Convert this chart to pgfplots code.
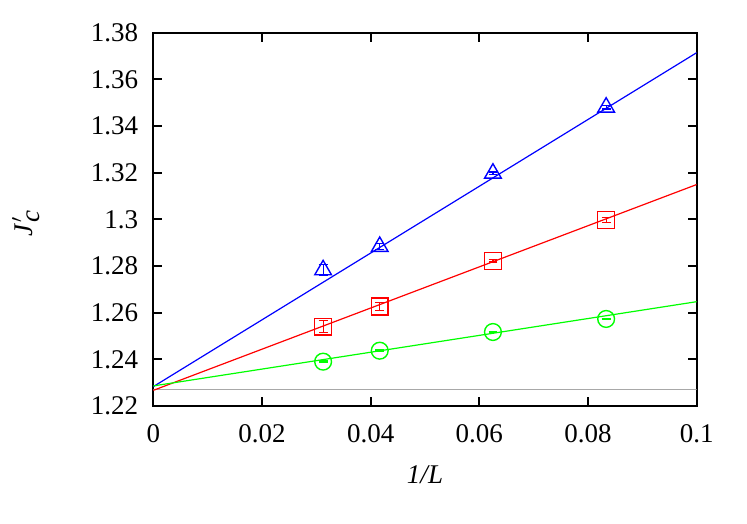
\documentclass[border=0pt]{standalone}
\usepackage{fontspec}
\setmainfont{Liberation Serif}
\usepackage{pgfplots}
\pgfplotsset{compat=1.18}
\definecolor{fitgray}{HTML}{A8A8A8}

\begin{document}
\begin{tikzpicture}
\useasboundingbox (0,0) rectangle (373.5pt,261.5pt);
\begin{axis}[
  at={(76.65pt,58.5pt)}, anchor=south west,
  scale only axis, width=271.7pt, height=186.7pt,
  xmin=0, xmax=0.1, ymin=1.22, ymax=1.38,
  xtick={0,0.02,...,0.1}, ytick={1.22,1.24,...,1.38},
  tick align=inside, major tick length=4.5pt,
  axis line style={line width=1pt}, tick style={black,line width=0.9pt},
  font=\fontsize{13.5}{16}\selectfont,
  /pgf/number format/assume math mode=true,
  /pgf/number format/.cd, fixed, precision=2, /pgfplots/.cd,
  yticklabel style={xshift=-4pt},
  xticklabel style={yshift=-5.5pt},
  xlabel={\textit{1/L}},
  ylabel={\textit{J}$^{\prime}_{\textit{c}}$},
  xlabel style={at={(axis description cs:0.5,-0.185)}, anchor=center},
  ylabel style={at={(axis description cs:-0.234,0.49)}, anchor=center},
  error bars/y dir=both, error bars/y explicit,
]
\addplot[fitgray, line width=0.6pt] coordinates {(0,1.2269) (0.1,1.2269)};
% fits
\addplot[blue, line width=0.6pt] coordinates {(0,1.2283) (0.1,1.3714)};
\addplot[red, line width=0.6pt] coordinates {(0,1.2267) (0.1,1.3149)};
\addplot[green, line width=0.6pt] coordinates {(0,1.2286) (0.1,1.2647)};
% data
\addplot[blue, only marks, mark=triangle, mark size=4.8pt, mark options={line width=0.7pt},
  error bars/error bar style={line width=0.6pt},
  error bars/error mark options={rotate=90, mark size=2.2pt, line width=0.6pt}]
  table[x=x, y=y, y error=e] {
x        y      e
0.03125  1.2783 0.0022
0.041667 1.2883 0.0014
0.0625   1.3197 0.0006
0.083333 1.3480 0.0007
};
\addplot[red, only marks, mark=square, mark size=4.2pt, mark options={line width=0.7pt},
  error bars/error bar style={line width=0.6pt},
  error bars/error mark options={rotate=90, mark size=2.2pt, line width=0.6pt}]
  table[x=x, y=y, y error=e] {
x        y      e
0.03125  1.2540 0.0025
0.041667 1.2626 0.0017
0.0625   1.2822 0.0005
0.083333 1.2997 0.0010
};
\addplot[green, only marks, mark=o, mark size=4.2pt, mark options={line width=0.7pt},
  error bars/error bar style={line width=0.6pt},
  error bars/error mark options={rotate=90, mark size=2.2pt, line width=0.6pt}]
  table[x=x, y=y, y error=e] {
x        y      e
0.03125  1.2390 0.0003
0.041667 1.2437 0.0003
0.0625   1.2517 0.0003
0.083333 1.2573 0.0003
};
\end{axis}
\end{tikzpicture}
\end{document}
